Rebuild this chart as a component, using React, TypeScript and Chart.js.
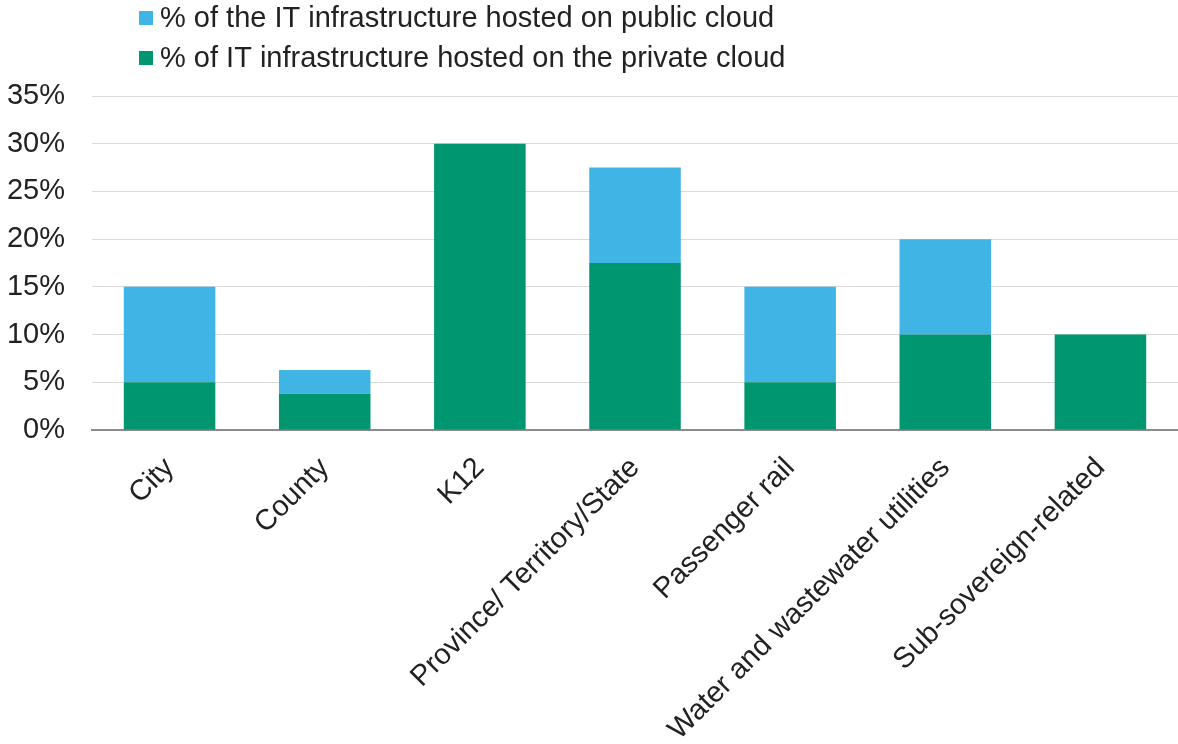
import React, { useEffect, useRef } from "react";
import { Chart, registerables } from "chart.js";

Chart.register(...registerables);

const categories = [
  "City",
  "County",
  "K12",
  "Province/ Territory/State",
  "Passenger rail",
  "Water and wastewater utilities",
  "Sub-sovereign-related",
];
const privateCloud = [5, 3.8, 30, 17.5, 5, 10, 10];
const publicCloud = [10, 2.5, 0, 10, 10, 10, 0];
const seriesLabels = [
  "% of the IT infrastructure hosted on public cloud",
  "% of IT infrastructure hosted on the private cloud",
];
const yTicks = [0, 5, 10, 15, 20, 25, 30, 35];

const BLUE = "#41B4E6";
const GREEN = "#009670";
const FONT = "'Liberation Sans', Arial, sans-serif";
const TEXT = "#222222";
const FS = 29;

const legendPlugin = {
  id: "customLegend",
  afterDraw(chart: any) {
    const ctx = chart.ctx;
    ctx.save();
    ctx.font = `${FS}px ${FONT}`;
    ctx.textBaseline = "middle";
    const items = [
      { label: seriesLabels[0], color: BLUE, y: 18 },
      { label: seriesLabels[1], color: GREEN, y: 58 },
    ];
    for (const it of items) {
      ctx.fillStyle = it.color;
      ctx.fillRect(139, it.y - 7, 14, 14);
      ctx.fillStyle = TEXT;
      ctx.fillText(it.label, 160, it.y + 1);
    }
    ctx.restore();
  },
};

export default function App() {
  const ref = useRef<HTMLCanvasElement>(null);
  useEffect(() => {
    document.body.style.margin = "0";
    const chart = new Chart(ref.current!, {
      type: "bar",
      data: {
        labels: categories,
        datasets: [
          {
            label: seriesLabels[1],
            data: privateCloud,
            backgroundColor: GREEN,
            barPercentage: 0.59,
            categoryPercentage: 1,
          },
          {
            label: seriesLabels[0],
            data: publicCloud,
            backgroundColor: BLUE,
            barPercentage: 0.59,
            categoryPercentage: 1,
          },
        ],
      },
      options: {
        animation: false,
        responsive: false,
        maintainAspectRatio: false,
        layout: { padding: { top: 96, right: 0, left: 0, bottom: 0 } },
        plugins: {
          legend: { display: false },
          tooltip: { enabled: false },
        },
        scales: {
          x: {
            stacked: true,
            grid: { display: false },
            border: { color: "#8c8c8c", width: 2 },
            ticks: {
              maxRotation: 45,
              minRotation: 45,
              color: TEXT,
              font: { family: FONT, size: FS },
              padding: 13,
            },
            afterFit: (s: any) => {
              s.height = 744 - 430;
            },
          },
          y: {
            stacked: true,
            min: 0,
            max: 35,
            afterBuildTicks: (s: any) => {
              s.ticks = yTicks.map((v) => ({ value: v }));
            },
            grid: { color: "#d9d9d9", lineWidth: 1, drawTicks: false },
            border: { display: false },
            ticks: {
              color: TEXT,
              font: { family: FONT, size: FS },
              padding: 27,
              callback: (v: any) => `${v}%`,
            },
            afterFit: (s: any) => {
              s.width = 92;
            },
          },
        },
      },
      plugins: [legendPlugin],
    });
    return () => chart.destroy();
  }, []);
  return (
    <div style={{ width: 1178, height: 744 }}>
      <canvas ref={ref} width={1178} height={744} />
    </div>
  );
}
